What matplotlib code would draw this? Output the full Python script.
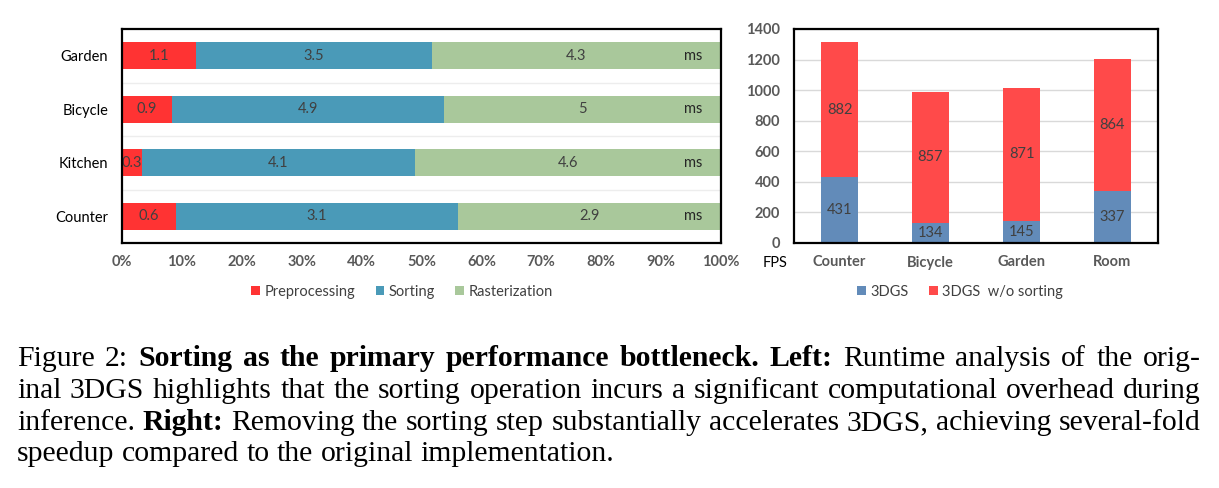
import matplotlib
matplotlib.use("Agg")
import matplotlib.pyplot as plt
import numpy as np

plt.rcParams['font.family'] = ['Lato', 'DejaVu Sans']

# left chart: runtime breakdown (ms)
scenes_l = ['Counter', 'Kitchen', 'Bicycle', 'Garden']
prep = [0.6, 0.3, 0.9, 1.1]
sort = [3.1, 4.1, 4.9, 3.5]
rast = [2.9, 4.6, 5.0, 4.3]
stage_names = ['Preprocessing', 'Sorting', 'Rasterization']
pct_ticks = ['0%', '10%', '20%', '30%', '40%', '50%', '60%', '70%', '80%', '90%', '100%']

# right chart: FPS
scenes_r = ['Counter', 'Bicycle', 'Garden', 'Room']
fps_3dgs = [431, 134, 145, 337]
fps_nosort = [882, 857, 871, 864]
fps_ticks = [0, 200, 400, 600, 800, 1000, 1200, 1400]

# caption, line by line, (text, bold)
caption = [
    [("Figure 2:", False), ("Sorting as the primary performance bottleneck.", True),
     ("Left:", True), ("Runtime analysis of the orig-", False)],
    [("inal 3DGS highlights that the sorting operation incurs a significant computational overhead during", False)],
    [("inference.", False), ("Right:", True),
     ("Removing the sorting step substantially accelerates 3DGS, achieving several-fold", False)],
    [("speedup compared to the original implementation.", False)],
]

W, H = 1219, 488
fig = plt.figure(figsize=(W / 100, H / 100), dpi=100)
ax1 = fig.add_axes([122 / W, 1 - 243 / H, 599 / W, 214 / H])
ax2 = fig.add_axes([794 / W, 1 - 243 / H, 364 / W, 214 / H])

lab_col = '#404040'
tick_col = '#595959'
fs = 10.5

# ---- left: 100% stacked horizontal bars
cols_l = ['#FF3333', '#4A9AB8', '#A9C89B']
data = np.array([prep, sort, rast])
tot = data.sum(axis=0)
frac = data / tot
y = np.arange(len(scenes_l))
left = np.zeros(len(scenes_l))
handles_l = []
for k in range(3):
    b = ax1.barh(y, frac[k], left=left, height=0.5, color=cols_l[k], zorder=2,
                 label=stage_names[k])
    handles_l.append(b)
    for i in range(len(y)):
        ax1.text(left[i] + frac[k][i] / 2, y[i], '{:g}'.format(data[k][i]),
                 ha='center', va='center', fontsize=fs, color=lab_col, zorder=3)
    left = left + frac[k]
for i in range(len(y)):
    ax1.text(0.953, y[i], 'ms', ha='center', va='center', fontsize=fs,
             color='#262626', zorder=3)

ax1.set_xlim(0, 1)
ax1.set_ylim(-0.5, 3.5)
ax1.set_yticks(y)
ax1.set_yticklabels(scenes_l, fontsize=fs, color='black')
ax1.set_yticks([0.5, 1.5, 2.5], minor=True)
ax1.grid(which='minor', axis='y', color='#EDEDED', lw=1, zorder=0)
ax1.set_xticks(np.linspace(0, 1, 11))
ax1.set_xticklabels(pct_ticks, fontsize=fs, color=tick_col, fontweight='bold')
ax1.tick_params(axis='both', which='both', length=0)
ax1.tick_params(axis='x', pad=9)
ax1.tick_params(axis='y', pad=10)

# ---- right: stacked FPS bars
cols_r = ['#628BB9', '#FF4A4A']
x = np.arange(len(scenes_r))
b1 = ax2.bar(x, fps_3dgs, width=0.4, color=cols_r[0], zorder=2, label='3DGS')
b2 = ax2.bar(x, fps_nosort, width=0.4, bottom=fps_3dgs, color=cols_r[1], zorder=2,
             label='3DGS  w/o sorting')
for i in range(len(x)):
    ax2.text(x[i], fps_3dgs[i] / 2, str(fps_3dgs[i]), ha='center', va='center',
             fontsize=fs, color=lab_col, zorder=3)
    ax2.text(x[i], fps_3dgs[i] + fps_nosort[i] / 2, str(fps_nosort[i]), ha='center',
             va='center', fontsize=fs, color=lab_col, zorder=3)
ax2.set_xlim(-0.5, 3.5)
ax2.set_ylim(0, 1400)
ax2.set_yticks(fps_ticks)
ax2.set_yticklabels([str(v) for v in fps_ticks], fontsize=fs, color=tick_col,
                    fontweight='bold')
ax2.set_xticks(x)
ax2.set_xticklabels(scenes_r, fontsize=fs, color=tick_col, fontweight='bold')
ax2.grid(axis='y', color='#D9D9D9', lw=1, zorder=0)
ax2.tick_params(axis='both', length=0)
ax2.tick_params(axis='x', pad=9)
ax2.tick_params(axis='y', pad=10)
fig.text(775 / W, 1 - 263 / H, 'FPS', ha='center', va='center', fontsize=fs, color='black')

for ax in (ax1, ax2):
    for s in ax.spines.values():
        s.set_linewidth(1.6)
        s.set_color('black')
        s.set_zorder(4)

leg_kw = dict(loc='center', frameon=False, fontsize=fs, handlelength=0.6,
              handleheight=0.6, handletextpad=0.3, columnspacing=1.4,
              labelcolor=lab_col)
fig.legend(handles=handles_l, ncol=3, bbox_to_anchor=(402 / W, 1 - 292 / H), **leg_kw)
fig.legend(handles=[b1, b2], ncol=2, bbox_to_anchor=(960 / W, 1 - 292 / H), **leg_kw)

# ---- caption, justified like the paper
renderer = fig.canvas.get_renderer()
x0, x1 = 17, 1201
baselines = [366, 398, 430, 461]
cap_fs = 21.4
for li, line in enumerate(caption):
    words = []
    for txt, bold in line:
        for w in txt.split(' '):
            words.append((w, bold))
    objs = [fig.text(0, 1 - baselines[li] / H, w, fontsize=cap_fs,
                     family='Liberation Serif', fontweight='bold' if b else 'normal',
                     va='baseline', ha='left', color='black') for w, b in words]
    widths = [o.get_window_extent(renderer).width for o in objs]
    if li < len(caption) - 1:
        gap = (x1 - x0 - sum(widths)) / (len(objs) - 1)
    else:
        gap = cap_fs * 100 / 72 * 0.25
    pos = x0
    for o, wd in zip(objs, widths):
        o.set_x(pos / W)
        pos += wd + gap

fig.savefig('out.png', dpi=100)
